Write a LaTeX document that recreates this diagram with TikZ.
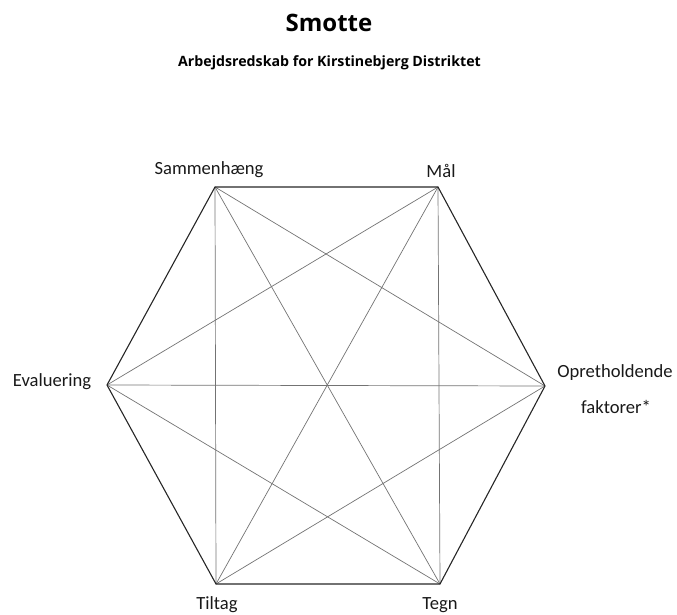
\documentclass[tikz,border=0pt]{standalone}
\usepackage{fontspec}
\setmainfont{Carlito}
\newfontfamily\titlefont{Open Sans}
\begin{document}
\begin{tikzpicture}[x=1pt,y=-1pt,
  edge/.style={draw=black!85,line width=1.1pt,line join=miter},
  diag/.style={draw=black!55,line width=0.7pt},
  lbl/.style={inner sep=0pt,font=\fontsize{18.6}{22}\selectfont,text=black!90,anchor=base}]
\useasboundingbox (0,0) rectangle (677,615);
\node[inner sep=0pt,anchor=base,font=\titlefont\bfseries\fontsize{24}{28}\selectfont] (title) at (329,32) {Smotte};
\node[inner sep=0pt,anchor=base,font=\titlefont\bfseries\fontsize{14.2}{16}\selectfont] (sub) at (329.5,67) {Arbejdsredskab for Kirstinebjerg Distriktet};
\coordinate (A) at (215,187);
\coordinate (B) at (438,187);
\coordinate (C) at (545,386);
\coordinate (D) at (440,584);
\coordinate (E) at (216,584);
\coordinate (F) at (107,385);
\foreach \p/\q in {A/C,A/D,A/E,B/D,B/E,B/F,C/E,C/F,D/F}
  \draw[diag] (\p) -- (\q);
\draw[edge] (A) -- (B) -- (C) -- (D) -- (E) -- (F) -- cycle;
\node[lbl] (lA) at (209,175) {Sammenhæng};
\node[lbl] (lB) at (441,177) {Mål};
\node[lbl] (lF) at (52,386) {Evaluering};
\node[lbl] (lC1) at (615,377) {Opretholdende};
\node[lbl] (lC2) at (616,413) {faktorer*};
\node[lbl] (lE) at (217,609) {Tiltag};
\node[lbl] (lD) at (440,609) {Tegn};
\end{tikzpicture}
\end{document}
